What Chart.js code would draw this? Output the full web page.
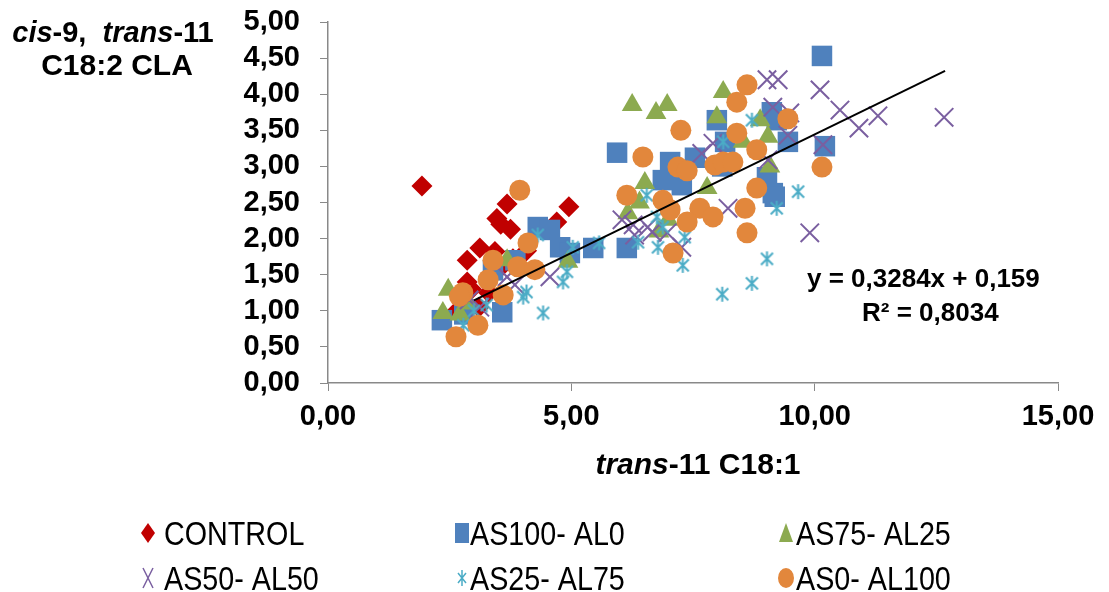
<!DOCTYPE html>
<html lang="en">
<head>
    <meta charset="UTF-8">
    <title>cis-9, trans-11 CLA vs trans-11 C18:1</title>
    <style>
        html, body {
            margin: 0;
            padding: 0;
            background: #ffffff;
        }
        canvas {
            display: block;
        }
    </style>
</head>
<body>
    <canvas id="claChart" width="1109" height="592"></canvas>

    <script src="https://cdn.jsdelivr.net/npm/chart.js"></script>
    <script>
        // points: [trans-11 C18:1, cis-9 trans-11 CLA]
        const controlPts = [[1.93, 2.73], [3.68, 2.48], [4.95, 2.44], [3.47, 2.28], [3.55, 2.20], [3.75, 2.13],
            [4.70, 2.23], [3.12, 1.87], [3.43, 1.82], [2.86, 1.70], [4.08, 1.83], [3.80, 1.72], [2.86, 1.40],
            [2.95, 1.30], [3.30, 1.25], [2.65, 1.00], [3.10, 1.05], [3.55, 1.60]];
        const as100Pts = [[2.34, 0.87], [3.58, 0.98], [3.39, 1.56], [3.85, 1.70], [4.31, 2.16], [4.56, 2.12],
            [4.77, 1.88], [4.97, 1.80], [5.45, 1.87], [5.94, 3.19], [6.14, 1.87], [6.88, 2.81], [7.03, 3.06],
            [7.27, 2.74], [7.54, 3.12], [7.99, 3.64], [8.16, 3.34], [9.02, 2.85], [9.12, 3.75], [9.22, 3.64],
            [9.45, 3.34], [9.14, 2.63], [9.18, 2.58], [10.15, 4.53], [10.21, 3.28], [8.10, 3.00], [2.80, 0.95]];
        const as75Pts = [[2.47, 1.29], [2.36, 0.97], [2.71, 0.95], [3.68, 1.70], [4.93, 1.68], [6.25, 3.85],
            [6.74, 3.74], [6.97, 3.85], [8.12, 4.03], [7.99, 3.68], [8.88, 3.64], [9.04, 3.41], [8.53, 3.34],
            [9.08, 3.00], [6.51, 2.77], [7.79, 2.70], [6.16, 2.35], [6.99, 2.26], [6.80, 2.10], [6.40, 2.50],
            [2.90, 1.10]];
        const as50Pts = [[3.12, 1.05], [3.68, 1.47], [3.84, 1.36], [4.56, 1.47], [6.04, 2.26], [6.27, 2.19],
            [6.57, 2.16], [6.66, 2.09], [6.97, 2.08], [7.27, 1.88], [7.68, 3.18], [7.91, 3.32], [8.22, 2.42],
            [9.02, 4.20], [9.25, 4.20], [9.14, 3.82], [9.49, 3.74], [9.45, 3.43], [9.04, 3.09], [10.11, 4.06],
            [10.52, 3.78], [11.30, 3.70], [10.91, 3.53], [12.66, 3.68], [10.17, 3.30], [9.90, 2.08],
            [2.90, 1.15], [6.30, 2.05]];
        const as25Pts = [[2.78, 0.80], [3.26, 1.08], [4.01, 1.19], [4.08, 1.26], [4.42, 0.97], [4.31, 2.05],
            [4.83, 1.40], [4.91, 1.54], [5.03, 1.88], [5.57, 1.94], [6.37, 1.95], [6.55, 2.60], [6.78, 1.88],
            [6.88, 2.16], [6.76, 2.30], [7.29, 1.63], [7.33, 2.02], [8.10, 1.23], [8.71, 1.38], [9.02, 1.72],
            [8.12, 3.34], [8.71, 3.64], [9.22, 2.42], [9.66, 2.65], [3.00, 1.00]];
        const as0Pts = [[2.63, 0.64], [3.08, 0.80], [2.77, 1.25], [2.70, 1.20], [3.60, 1.22], [3.29, 1.43],
            [3.39, 1.70], [3.90, 1.61], [4.25, 1.57], [4.11, 1.94], [3.94, 2.67], [6.14, 2.60], [6.47, 3.13],
            [7.25, 3.50], [7.19, 2.99], [7.38, 2.94], [7.95, 3.02], [8.12, 3.06], [8.32, 3.06], [6.88, 2.53],
            [7.03, 2.40], [7.64, 2.42], [7.91, 2.30], [7.38, 2.23], [7.09, 1.80], [8.57, 2.42], [8.81, 2.70],
            [8.61, 2.08], [8.81, 3.23], [8.40, 3.46], [8.40, 3.89], [8.61, 4.13], [9.45, 3.66], [10.15, 2.99]];

        // linear trendline as printed on the chart
        const trendSlope = 0.3284;
        const trendIntercept = 0.159;
        const trendRange = [3.0, 12.68];

        const seriesNames = ['CONTROL', 'AS100- AL0', 'AS75- AL25', 'AS50- AL50', 'AS25- AL75', 'AS0- AL100'];
        const seriesColors = ['#C00000', '#4F81BD', '#8CAA50', '#7A5FA0', '#4BACC6', '#E2873C'];

        const xTicks = [0, 5, 10, 15];
        const yTicks = [0, 0.5, 1, 1.5, 2, 2.5, 3, 3.5, 4, 4.5, 5];

        const fmt = v => v.toFixed(2).replace('.', ',');
        const toXY = pts => pts.map(p => ({ x: p[0], y: p[1] }));

        // excel style asterisk: vertical bar plus an x
        function makeAsterisk(size, color, lw) {
            const c = document.createElement('canvas');
            c.width = size + 4;
            c.height = size + 4;
            const g = c.getContext('2d');
            const m = c.width / 2;
            const r = size / 2;
            g.strokeStyle = color;
            g.lineWidth = lw;
            g.beginPath();
            g.moveTo(m, m - r);
            g.lineTo(m, m + r);
            const d = r * 0.8;
            g.moveTo(m - d, m - d);
            g.lineTo(m + d, m + d);
            g.moveTo(m - d, m + d);
            g.lineTo(m + d, m - d);
            g.stroke();
            return c;
        }

        const asteriskBig = makeAsterisk(15, seriesColors[4], 2);

        function drawRich(ctx, parts, cx, y, size) {
            let total = 0;
            parts.forEach(p => {
                ctx.font = (p.i ? 'italic ' : '') + 'bold ' + size + 'px Arial, "Liberation Sans"';
                total += ctx.measureText(p.t).width;
            });
            let x = cx - total / 2;
            parts.forEach(p => {
                ctx.font = (p.i ? 'italic ' : '') + 'bold ' + size + 'px Arial, "Liberation Sans"';
                ctx.fillText(p.t, x, y);
                x += ctx.measureText(p.t).width;
            });
        }

        function legendMarker(ctx, idx, x, y) {
            const col = seriesColors[idx];
            ctx.save();
            ctx.fillStyle = col;
            ctx.strokeStyle = col;
            ctx.beginPath();
            if (idx === 0) {
                ctx.moveTo(x, y - 10); ctx.lineTo(x + 7, y); ctx.lineTo(x, y + 10); ctx.lineTo(x - 7, y);
                ctx.closePath(); ctx.fill();
            } else if (idx === 1) {
                ctx.fillRect(x - 7, y - 10, 14, 20);
            } else if (idx === 2) {
                ctx.moveTo(x, y - 10); ctx.lineTo(x + 7, y + 9); ctx.lineTo(x - 7, y + 9);
                ctx.closePath(); ctx.fill();
            } else if (idx === 3) {
                ctx.lineWidth = 1.5;
                ctx.moveTo(x - 5, y - 10); ctx.lineTo(x + 5, y + 10);
                ctx.moveTo(x - 5, y + 10); ctx.lineTo(x + 5, y - 10);
                ctx.stroke();
            } else if (idx === 4) {
                ctx.lineWidth = 1.5;
                ctx.moveTo(x, y - 8); ctx.lineTo(x, y + 8);
                ctx.moveTo(x - 4, y - 5); ctx.lineTo(x + 4, y + 5);
                ctx.moveTo(x - 4, y + 5); ctx.lineTo(x + 4, y - 5);
                ctx.stroke();
            } else {
                ctx.ellipse(x, y, 8, 10, 0, 0, Math.PI * 2);
                ctx.fill();
            }
            ctx.restore();
        }

        // titles, equation and the two row legend
        const annotations = {
            id: 'annotations',
            afterDraw(chart) {
                const ctx = chart.ctx;
                ctx.save();
                ctx.fillStyle = '#000000';
                ctx.textBaseline = 'alphabetic';
                drawRich(ctx, [{ t: 'cis', i: true }, { t: '-9,  ' }, { t: 'trans', i: true }, { t: '-11' }], 113, 42, 29);
                drawRich(ctx, [{ t: 'C18:2 CLA' }], 117, 75, 30);
                drawRich(ctx, [{ t: 'trans', i: true }, { t: '-11 C18:1' }], 698, 474, 30);

                ctx.font = 'bold 26px Arial, "Liberation Sans"';
                ctx.textAlign = 'left';
                ctx.fillText('y = 0,3284x + 0,159', 807, 287);
                ctx.fillText('R² = 0,8034', 862, 321);

                const cols = [[148, 164], [462, 470], [786, 796]];
                const rows = [533, 578];
                seriesNames.forEach((name, i) => {
                    const col = cols[i % 3];
                    const row = rows[Math.floor(i / 3)];
                    legendMarker(ctx, i, col[0], row);
                    ctx.save();
                    ctx.translate(col[1], row + 12);
                    ctx.scale(0.87, 1);
                    ctx.font = '33px Arial, "Liberation Sans"';
                    ctx.fillStyle = '#000000';
                    ctx.fillText(name, 0, 0);
                    ctx.restore();
                });
                ctx.restore();
            }
        };

        const ctx = document.getElementById('claChart').getContext('2d');

        const trendData = trendRange.map(x => ({ x: x, y: trendSlope * x + trendIntercept }));

        const tickFont = { family: 'Arial, "Liberation Sans"', size: 29, weight: 'bold' };

        const claChart = new Chart(ctx, {
            type: 'scatter',
            data: {
                datasets: [
                    {
                        label: seriesNames[0], data: toXY(controlPts), order: 6,
                        pointStyle: 'rectRot', pointRadius: 10.5, backgroundColor: seriesColors[0],
                        borderColor: seriesColors[0], borderWidth: 0
                    },
                    {
                        label: seriesNames[1], data: toXY(as100Pts), order: 5,
                        pointStyle: 'rect', pointRadius: 14.5, backgroundColor: seriesColors[1],
                        borderColor: seriesColors[1], borderWidth: 0
                    },
                    {
                        label: seriesNames[2], data: toXY(as75Pts), order: 4,
                        pointStyle: 'triangle', pointRadius: 12, backgroundColor: seriesColors[2],
                        borderColor: seriesColors[2], borderWidth: 0
                    },
                    {
                        label: seriesNames[3], data: toXY(as50Pts), order: 3,
                        pointStyle: 'crossRot', pointRadius: 13, backgroundColor: seriesColors[3],
                        borderColor: seriesColors[3], borderWidth: 2
                    },
                    {
                        label: seriesNames[4], data: toXY(as25Pts), order: 2,
                        pointStyle: asteriskBig, backgroundColor: seriesColors[4],
                        borderColor: seriesColors[4]
                    },
                    {
                        label: seriesNames[5], data: toXY(as0Pts), order: 1,
                        pointStyle: 'circle', pointRadius: 10.5, backgroundColor: seriesColors[5],
                        borderColor: seriesColors[5], borderWidth: 0
                    },
                    {
                        type: 'line', label: 'trend', data: trendData, order: 0,
                        borderColor: '#000000', borderWidth: 2, pointRadius: 0, fill: false
                    }
                ]
            },
            options: {
                responsive: false,
                animation: false,
                devicePixelRatio: 1,
                layout: {
                    padding: { top: 22, right: 51, bottom: 0, left: 0 }
                },
                plugins: {
                    legend: { display: false },
                    tooltip: { enabled: false }
                },
                scales: {
                    x: {
                        type: 'linear',
                        min: 0,
                        max: 15,
                        afterFit(scale) {
                            scale.height = 209;
                            scale.paddingLeft = 0;
                            scale.paddingRight = 0;
                        },
                        afterBuildTicks(scale) { scale.ticks = xTicks.map(v => ({ value: v })); },
                        border: { color: '#898989', width: 1.5 },
                        grid: { drawOnChartArea: false, drawTicks: true, tickLength: 8, color: '#898989' },
                        ticks: {
                            autoSkip: false,
                            maxRotation: 0,
                            padding: 9,
                            color: '#000000',
                            font: tickFont,
                            callback: v => fmt(v)
                        }
                    },
                    y: {
                        type: 'linear',
                        min: 0,
                        max: 5,
                        afterFit(scale) {
                            scale.width = 328;
                            scale.paddingTop = 0;
                            scale.paddingBottom = 0;
                        },
                        afterBuildTicks(scale) { scale.ticks = yTicks.map(v => ({ value: v })); },
                        border: { color: '#898989', width: 1.5 },
                        grid: { drawOnChartArea: false, drawTicks: true, tickLength: 8, color: '#898989' },
                        ticks: {
                            autoSkip: false,
                            padding: 20,
                            color: '#000000',
                            font: tickFont,
                            callback: v => fmt(v)
                        }
                    }
                }
            },
            plugins: [annotations]
        });
    </script>
</body>
</html>
